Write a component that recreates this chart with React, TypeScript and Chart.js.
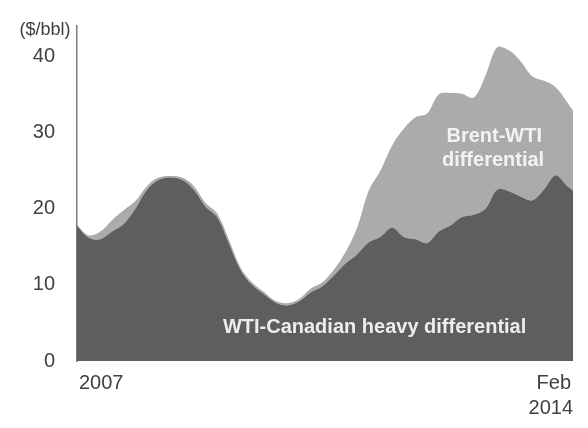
import React, { useEffect, useRef } from "react";
import { Chart, registerables } from "chart.js";

Chart.register(...registerables);

// Month offsets from Jan 2007 (0) to Feb 2014 (85)
const monthIdx = [0, 2, 4, 6, 8, 10, 12, 14, 16, 18, 20, 22, 24, 26, 28, 30, 32, 34, 36, 38, 40, 42, 44, 46, 48, 50, 52, 54, 56, 58, 60, 62, 64, 66, 68, 70, 72, 74, 76, 78, 80, 82, 84, 85];

// WTI-Canadian heavy differential ($/bbl)
const wtiCanadian = [17.8, 16.2, 16.0, 17.0, 18.0, 20.0, 22.5, 23.8, 24.1, 23.8, 22.5, 20.3, 18.9, 15.5, 12.0, 10.0, 8.8, 7.7, 7.3, 7.8, 9.0, 9.8, 11.2, 12.8, 14.0, 15.6, 16.3, 17.5, 16.3, 16.0, 15.5, 17.0, 17.8, 18.9, 19.2, 20.0, 22.5, 22.3, 21.6, 21.1, 22.5, 24.4, 23.0, 22.4];

// Brent-WTI differential ($/bbl), stacked on top
const brentWti = [0, 0.3, 1.0, 1.5, 1.8, 1.0, 0.5, 0.3, 0.2, 0.3, 0.5, 0.5, 0.5, 0.5, 0.3, 0.3, 0.3, 0.2, 0.3, 0.3, 0.5, 0.5, 0.8, 1.5, 3.5, 6.8, 8.7, 10.8, 14.2, 16.0, 17.0, 18.0, 17.4, 16.2, 15.4, 17.5, 18.7, 18.5, 17.8, 16.3, 14.3, 11.6, 11.0, 10.5];

const yTicks = [0, 10, 20, 30, 40];
const unitLabel = "($/bbl)";
const xStartLabel = ["2007"];
const xEndLabel = ["Feb", "2014"];

const FONT = "'Liberation Sans', Arial, sans-serif";

const labelsPlugin = {
  id: "customLabels",
  afterDatasetsDraw(chart: any) {
    const { ctx, scales } = chart;
    const x = scales.x;
    const y = scales.y;
    ctx.save();
    // y tick labels
    ctx.fillStyle = "#404040";
    ctx.font = `20px ${FONT}`;
    ctx.textAlign = "right";
    ctx.textBaseline = "middle";
    yTicks.forEach((v) => {
      ctx.fillText(String(v), 55, y.getPixelForValue(v));
    });
    // unit label
    ctx.font = `18px ${FONT}`;
    ctx.textAlign = "center";
    ctx.fillText(unitLabel, 45, 30);
    // x labels
    ctx.font = `20px ${FONT}`;
    ctx.textAlign = "left";
    ctx.fillText(xStartLabel[0], x.getPixelForValue(0) + 2, 383);
    ctx.textAlign = "right";
    const xe = x.getPixelForValue(85);
    ctx.fillText(xEndLabel[0], xe - 2, 383);
    ctx.fillText(xEndLabel[1], xe, 408);
    // annotations
    ctx.font = `bold 20px ${FONT}`;
    ctx.textAlign = "center";
    ctx.fillStyle = "#ededed";
    ctx.fillText("WTI-Canadian heavy differential", x.getPixelForValue(51), y.getPixelForValue(4.4));
    ctx.fillStyle = "#f2f2f2";
    ctx.fillText("Brent-WTI", x.getPixelForValue(71.5), y.getPixelForValue(29.5));
    ctx.fillText("differential", x.getPixelForValue(71.3), y.getPixelForValue(26.3));
    ctx.restore();
  },
};

export default function App() {
  const ref = useRef<HTMLCanvasElement | null>(null);
  useEffect(() => {
    if (!ref.current) return;
    const chart = new Chart(ref.current, {
      type: "line",
      data: {
        datasets: [
          {
            label: "WTI-Canadian heavy differential",
            data: monthIdx.map((m, i) => ({ x: m, y: wtiCanadian[i] })),
            backgroundColor: "#5e5e5e",
            borderWidth: 0,
            pointRadius: 0,
            fill: "origin",
            tension: 0.35,
          },
          {
            label: "Brent-WTI differential",
            data: monthIdx.map((m, i) => ({ x: m, y: brentWti[i] })),
            backgroundColor: "#ababab",
            borderWidth: 0,
            pointRadius: 0,
            fill: "-1",
            tension: 0.35,
          },
        ],
      },
      options: {
        animation: false,
        responsive: false,
        maintainAspectRatio: false,
        layout: { padding: { left: 77, right: 15, top: 26, bottom: 67 } },
        plugins: { legend: { display: false }, tooltip: { enabled: false } },
        scales: {
          x: { type: "linear", min: 0, max: 85, display: false },
          y: {
            stacked: true,
            min: 0,
            max: 44,
            ticks: { display: false },
            grid: { display: false, drawTicks: false },
            border: { display: true, color: "#7a7a7a", width: 1.5 },
          },
        },
      },
      plugins: [labelsPlugin],
    });
    return () => chart.destroy();
  }, []);
  return (
    <div style={{ position: "fixed", left: 0, top: 0, width: 588, height: 428, background: "#fff" }}>
      <canvas ref={ref} width={588} height={428} style={{ width: 588, height: 428 }} />
    </div>
  );
}
